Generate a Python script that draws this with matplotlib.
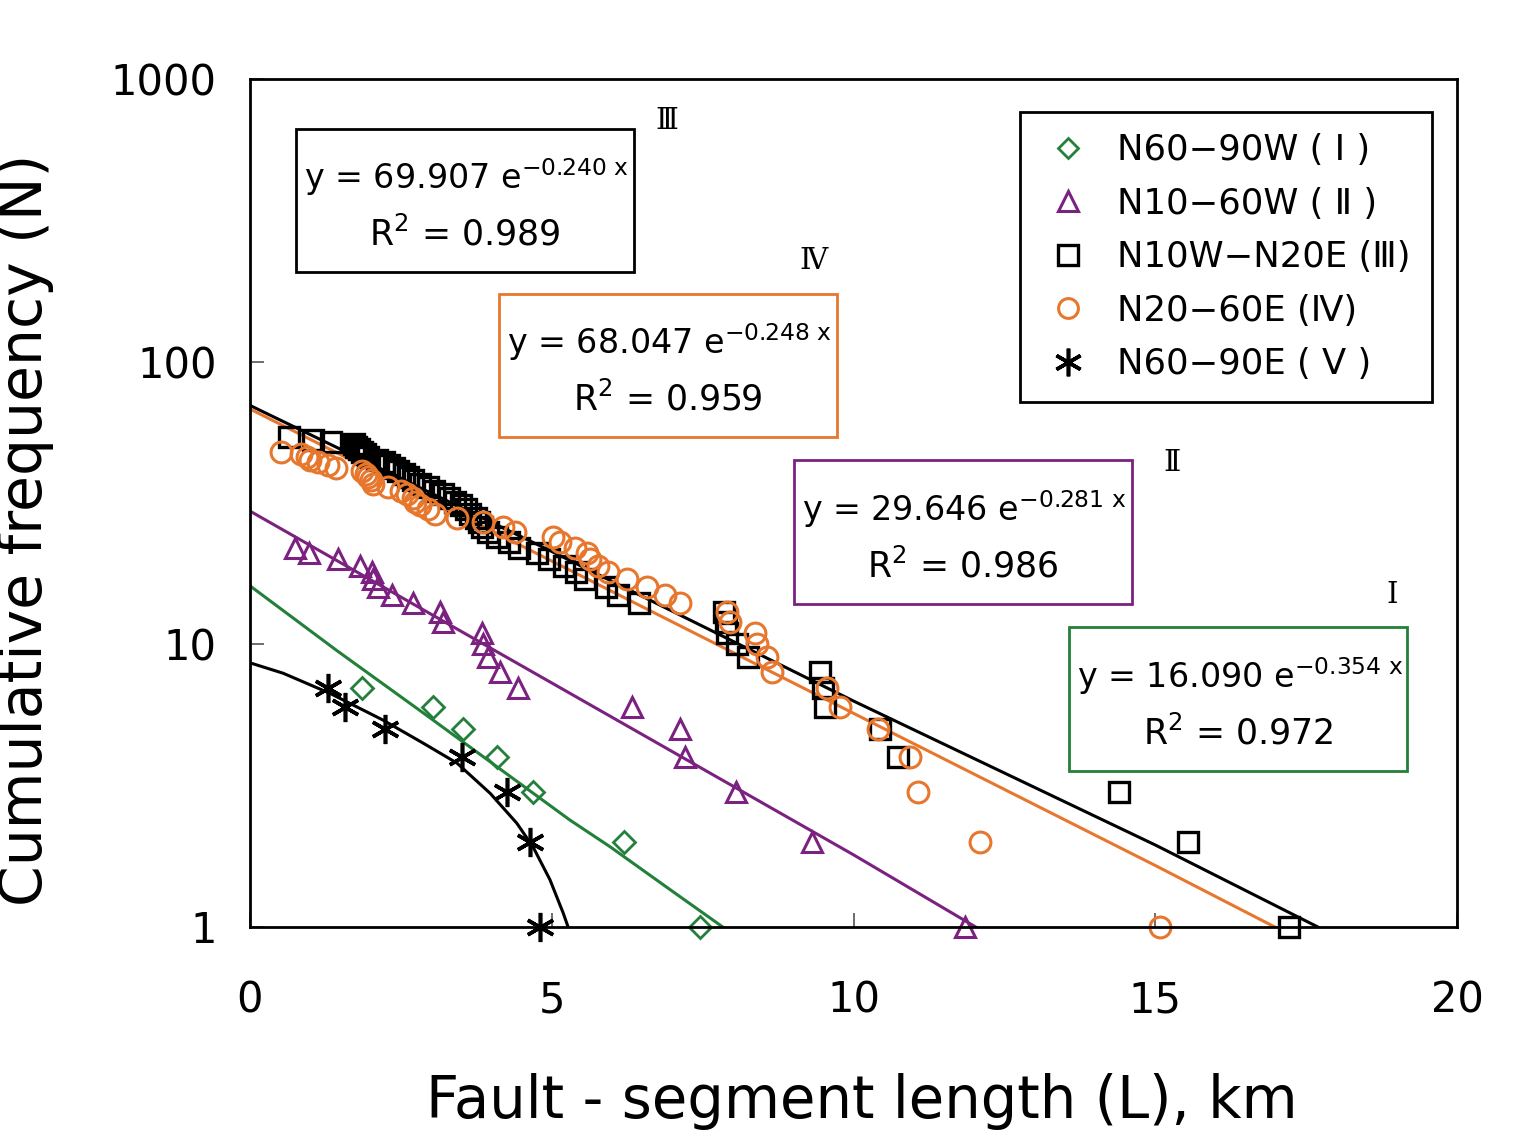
import numpy as np
import matplotlib
matplotlib.use("Agg")
import matplotlib.pyplot as plt
from matplotlib.patches import Rectangle

plt.rcParams['font.family'] = ['DejaVu Sans', 'Noto Sans CJK SC']
plt.rcParams['mathtext.fontset'] = 'dejavusans'

# ---- data (cumulative count N vs segment length, km) ----
# group I  N60-90W
x_I = [1.86, 3.03, 3.53, 4.09, 4.69, 6.20, 7.46]
n_I = [7, 6, 5, 4, 3, 2, 1]

# group II  N10-60W
x_II = [0.75, 0.98, 1.46, 1.82, 2.02, 2.04, 2.12, 2.35, 2.70, 3.15, 3.20,
        3.84, 3.86, 3.94, 4.14, 4.44, 6.33, 7.13, 7.21, 8.05, 9.31, 11.85]
n_II = list(range(22, 0, -1))

# group III  N10W-N20E
x_III = [0.65, 1.05, 1.35, 1.72, 1.76, 1.80, 1.85, 1.90, 1.95, 2.10,
         2.22, 2.30, 2.38, 2.45, 2.55, 2.62, 2.70, 2.82, 2.95, 3.05,
         3.20, 3.30, 3.40, 3.50, 3.58, 3.65, 3.75, 3.80, 3.85, 3.95,
         4.10, 4.30, 4.45, 4.75, 4.95, 5.20, 5.40, 5.55, 5.90, 6.10,
         6.45, 7.85, 7.88, 7.90, 8.07, 8.25, 9.45, 9.50, 9.53, 10.44,
         10.74, 14.40, 15.54, 17.22]
n_III = list(range(54, 0, -1))

# group IV  N20-60E
x_IV = [0.52, 0.85, 0.95, 1.00, 1.12, 1.30, 1.42, 1.86, 1.92, 1.95,
        2.00, 2.04, 2.28, 2.50, 2.60, 2.70, 2.74, 2.82, 2.95, 3.07,
        3.43, 3.86, 4.19, 4.39, 5.02, 5.14, 5.39, 5.58, 5.63, 5.77,
        5.93, 6.25, 6.58, 6.88, 7.13, 7.90, 7.95, 8.37, 8.40, 8.57,
        8.65, 9.56, 9.78, 10.41, 10.94, 11.07, 12.10, 15.08]
n_IV = list(range(48, 0, -1))

# group V  N60-90E
x_V = [1.29, 1.57, 2.24, 3.51, 4.26, 4.64, 4.81]
n_V = [7, 6, 5, 4, 3, 2, 1]

# fitted curves as drawn on the chart
fit_I_x = [0.0, 1.44, 2.98, 5.30, 5.97, 6.91, 7.95]
fit_I_y = [16.1, 9.5, 5.5, 2.39, 1.92, 1.38, 0.96]
fit_II_x = [0.0, 5.0, 10.0, 12.2]
fit_II_y = [29.6, 7.3, 1.8, 0.95]
fit_III_x = [0.0, 5.0, 10.0, 15.0, 17.9]
fit_III_y = [70.0, 21.3, 6.3, 1.95, 0.95]
fit_IV_x = [0.0, 5.0, 10.0, 15.0, 17.1]
fit_IV_y = [68.0, 19.7, 5.7, 1.65, 0.97]
fit_V_x = [0.0, 0.55, 1.33, 2.20, 2.87, 3.43, 3.98, 4.42, 4.69, 4.97, 5.19, 5.30]
fit_V_y = [8.6, 7.9, 6.7, 5.4, 4.47, 3.8, 2.97, 2.33, 1.92, 1.47, 1.12, 0.96]

green = '#23803a'
purple = '#7b2180'
orange = '#e8772e'
black = '#000000'

fig = plt.figure(figsize=(15.27, 11.36), dpi=100)
ax = fig.add_axes([0.1637, 0.184, 0.7905, 0.7465])

# fit lines
ax.plot(fit_III_x, fit_III_y, color=black, lw=2.2, zorder=2)
ax.plot(fit_IV_x, fit_IV_y, color=orange, lw=2.2, zorder=2)
ax.plot(fit_II_x, fit_II_y, color=purple, lw=2.2, zorder=2)
ax.plot(fit_I_x, fit_I_y, color=green, lw=2.2, zorder=2)
ax.plot(fit_V_x, fit_V_y, color=black, lw=2.2, zorder=2)

# points
hI, = ax.plot(x_I, n_I, ls='none', marker='D', ms=11, mfc='none', mec=green, mew=2.0,
              clip_on=False, zorder=3)
hII, = ax.plot(x_II, n_II, ls='none', marker='^', ms=15, mfc='none', mec=purple, mew=2.2,
               clip_on=False, zorder=3)
hIII, = ax.plot(x_III, n_III, ls='none', marker='s', ms=14.5, mfc='none', mec=black, mew=2.4,
                clip_on=False, zorder=3)
hIV, = ax.plot(x_IV, n_IV, ls='none', marker='o', ms=15, mfc='none', mec=orange, mew=2.2,
               clip_on=False, zorder=3)
hV, = ax.plot(x_V, n_V, ls='none', marker=(6, 2, 0), ms=21, mec=black, mew=2.6,
              clip_on=False, zorder=3)

ax.set_yscale('log')
ax.set_xlim(0, 20)
ax.set_ylim(1, 1000)
ax.set_xticks([0, 5, 10, 15, 20])
ax.set_xticklabels(['0', '5', '10', '15', '20'])
ax.set_yticks([1, 10, 100, 1000])
ax.set_yticklabels(['1', '10', '100', '1000'])
ax.minorticks_off()
ax.tick_params(axis='both', direction='in', length=10, width=1.2, color='#555555',
               labelsize=30)
ax.tick_params(axis='y', pad=24)
ax.tick_params(axis='x', pad=38)
for s in ax.spines.values():
    s.set_linewidth(2.0)
    s.set_zorder(4)

ax.set_xlabel('Fault - segment length (L), km', fontsize=41.5)
ax.set_ylabel('Cumulative frequency (N)', fontsize=42)
ax.xaxis.set_label_coords(0.507, -0.172)
ax.yaxis.set_label_coords(-0.162, 0.468)

# equation boxes (axes fraction coords)
boxes = [
    (0.0381, 0.7724, 0.2800, 0.1686, black, '69.907', '0.240', '0.989', 'Ⅲ', (0.345, 0.950)),
    (0.2063, 0.5778, 0.2800, 0.1687, orange, '68.047', '0.248', '0.959', 'Ⅳ', (0.467, 0.785)),
    (0.4507, 0.3809, 0.2800, 0.1698, purple, '29.646', '0.281', '0.986', 'Ⅱ', (0.764, 0.547)),
    (0.6785, 0.1840, 0.2801, 0.1698, green, '16.090', '0.354', '0.972', 'Ⅰ', (0.946, 0.391)),
]
for bx, by, bw, bh, col, a, b, r2, roman, rpos in boxes:
    ax.add_patch(Rectangle((bx, by), bw, bh, transform=ax.transAxes, fill=True,
                           facecolor='white', edgecolor=col, lw=2.0, zorder=5))
    ax.text(bx + 0.007, by + bh * 0.66, 'y = ' + a + ' e$^{\\mathdefault{-' + b + '\\ x}}$',
            transform=ax.transAxes, fontsize=24, ha='left', va='center', zorder=6)
    ax.text(bx + bw / 2, by + bh * 0.26, 'R$^{\\mathdefault{2}}$ = ' + r2,
            transform=ax.transAxes, fontsize=25, ha='center', va='center', zorder=6)
    ax.text(rpos[0], rpos[1], roman, transform=ax.transAxes, fontsize=21,
            family=['DejaVu Serif', 'DejaVu Sans'], ha='center', va='center')

leg = ax.legend([hI, hII, hIII, hIV, hV],
                ['N60−90W ( Ⅰ )', 'N10−60W ( Ⅱ )', 'N10W−N20E (Ⅲ)',
                 'N20−60E (Ⅳ)', 'N60−90E ( Ⅴ )'],
                loc='upper right', bbox_to_anchor=(0.9793, 0.9611), borderaxespad=0,
                fontsize=25.5, numpoints=1, markerscale=0.95, handlelength=1.5,
                handletextpad=0.65, labelspacing=0.55, borderpad=0.6,
                fancybox=False, edgecolor='black', framealpha=1)
leg.get_frame().set_linewidth(2.0)
leg.set_zorder(6)

fig.savefig('out.png', dpi=100)
